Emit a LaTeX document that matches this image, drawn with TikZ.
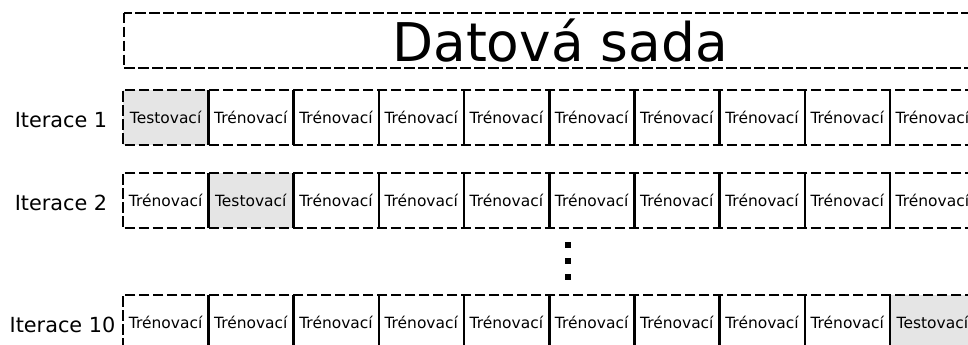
\documentclass[tikz,border=0pt]{standalone}
\usepackage{fontspec}
\setmainfont{DejaVu Sans}
\usetikzlibrary{positioning,calc}

\begin{document}
\begin{tikzpicture}[x=0.75pt,y=-0.75pt,
 cell/.style={rectangle,minimum width=63.9pt,minimum height=41.25pt,inner sep=0pt,font=\fontsize{11.6}{13}\selectfont},
 test/.style={cell,fill=black!10},
 iter/.style={inner sep=0pt,font=\fontsize{15.6}{18}\selectfont},
 outline/.style={line width=1.6pt,dash pattern=on 8pt off 2.5pt},
 sep/.style={line width=2pt},
 tecka/.style={rectangle,fill=black,minimum size=4.5pt,inner sep=0pt}]
\useasboundingbox (0,0) rectangle (968,345);
% dataset
\node[rectangle,minimum width=654pt,minimum height=41.25pt,inner sep=0pt,
  font=\fontsize{40}{44}\selectfont] (sada) at (560,40.5) {Datová sada};
\draw[outline] (sada.north west) rectangle (sada.south east);
% iterations
\node[iter] (it1) at (61,120) {Iterace 1};
\node[iter] (it2) at (61,203) {Iterace 2};
\node[iter] (it3) at (62.5,325) {Iterace 10};
\foreach \r/\y/\t in {1/117.5/1,2/200.5/2,3/322.5/10}{
  \foreach \k in {1,...,10}{
    \ifnum\k=\t
      \node[test] (r\r c\k) at ({165.6+85.2*(\k-1)},\y) {Testovací};
    \else
      \node[cell] (r\r c\k) at ({165.6+85.2*(\k-1)},\y) {Trénovací};
    \fi
  }
  \draw[outline] (r\r c10.north east) -- (r\r c1.north west) -- (r\r c1.south west) -- (r\r c10.south east);
  \foreach \k in {1,...,9}{
    \draw[sep] (r\r c\k.north east) -- (r\r c\k.south east);
  }
}
% dots
\node[tecka] (t1) at (568,245) {};
\node[tecka] (t2) at (568,261) {};
\node[tecka] (t3) at (568,277) {};
\end{tikzpicture}
\end{document}
